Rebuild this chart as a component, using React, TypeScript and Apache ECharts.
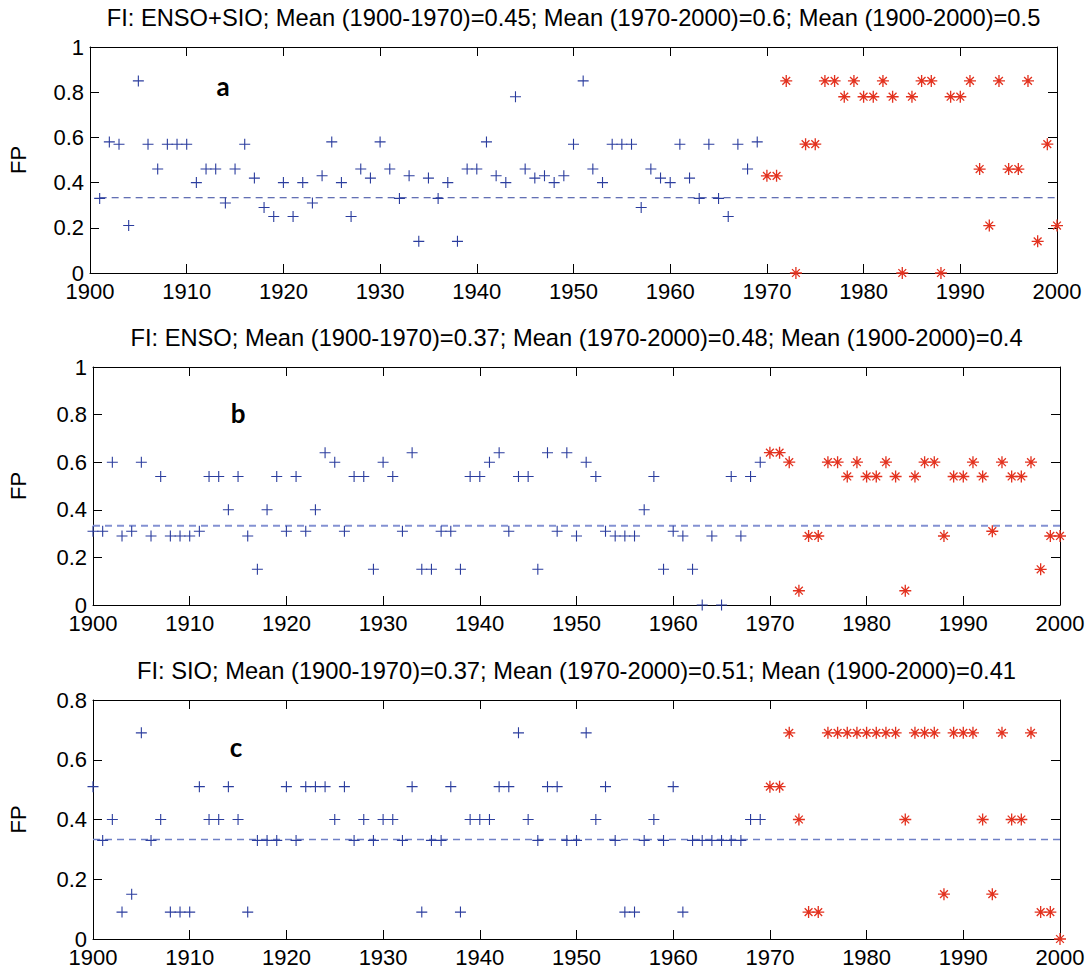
import React, { useEffect, useRef } from "react";
import * as echarts from "echarts";

// ---------- data ----------
const startYearA = 1901;
const startYearB = 1900;
const startYearC = 1900;
const endYear = 2000;
const splitYear = 1970;
const chanceLevel = 0.333;

const fpA = [
  0.33, 0.58, 0.57, 0.21, 0.85, 0.57, 0.46, 0.57, 0.57, 0.57,
  0.40, 0.46, 0.46, 0.31, 0.46, 0.57, 0.42, 0.29, 0.25, 0.40,
  0.25, 0.40, 0.31, 0.43, 0.58, 0.40, 0.25, 0.46, 0.42, 0.58,
  0.46, 0.33, 0.43, 0.14, 0.42, 0.33, 0.40, 0.14, 0.46, 0.46,
  0.58, 0.43, 0.40, 0.78, 0.46, 0.42, 0.43, 0.40, 0.43, 0.57,
  0.85, 0.46, 0.40, 0.57, 0.57, 0.57, 0.29, 0.46, 0.42, 0.40,
  0.57, 0.42, 0.33, 0.57, 0.33, 0.25, 0.57, 0.46, 0.58,
  0.43, 0.43, 0.85, 0.0, 0.57, 0.57, 0.85, 0.85, 0.78, 0.85, 0.78,
  0.78, 0.85, 0.78, 0.0, 0.78, 0.85, 0.85, 0.0, 0.78, 0.78,
  0.85, 0.46, 0.21, 0.85, 0.46, 0.46, 0.85, 0.14, 0.57, 0.21,
];

const fpB = [
  0.31, 0.31, 0.60, 0.29, 0.31, 0.60, 0.29, 0.54, 0.29, 0.29,
  0.29, 0.31, 0.54, 0.54, 0.40, 0.54, 0.29, 0.15, 0.40, 0.54,
  0.31, 0.54, 0.31, 0.40, 0.64, 0.60, 0.31, 0.54, 0.54, 0.15,
  0.60, 0.54, 0.31, 0.64, 0.15, 0.15, 0.31, 0.31, 0.15, 0.54,
  0.54, 0.60, 0.64, 0.31, 0.54, 0.54, 0.15, 0.64, 0.31, 0.64,
  0.29, 0.60, 0.54, 0.31, 0.29, 0.29, 0.29, 0.40, 0.54, 0.15,
  0.31, 0.29, 0.15, 0.0, 0.29, 0.0, 0.54, 0.29, 0.54, 0.60,
  0.64, 0.64, 0.60, 0.06, 0.29, 0.29, 0.60, 0.60, 0.54, 0.60,
  0.54, 0.54, 0.60, 0.54, 0.06, 0.54, 0.60, 0.60, 0.29, 0.54,
  0.54, 0.60, 0.54, 0.31, 0.60, 0.54, 0.54, 0.60, 0.15, 0.29, 0.29,
];

const fpC = [
  0.51, 0.33, 0.40, 0.09, 0.15, 0.69, 0.33, 0.40, 0.09, 0.09,
  0.09, 0.51, 0.40, 0.40, 0.51, 0.40, 0.09, 0.33, 0.33, 0.33,
  0.51, 0.33, 0.51, 0.51, 0.51, 0.40, 0.51, 0.33, 0.40, 0.33,
  0.40, 0.40, 0.33, 0.51, 0.09, 0.33, 0.33, 0.51, 0.09, 0.40,
  0.40, 0.40, 0.51, 0.51, 0.69, 0.40, 0.33, 0.51, 0.51, 0.33,
  0.33, 0.69, 0.40, 0.51, 0.33, 0.09, 0.09, 0.33, 0.40, 0.33,
  0.51, 0.09, 0.33, 0.33, 0.33, 0.33, 0.33, 0.33, 0.40, 0.40,
  0.51, 0.51, 0.69, 0.40, 0.09, 0.09, 0.69, 0.69, 0.69, 0.69,
  0.69, 0.69, 0.69, 0.69, 0.40, 0.69, 0.69, 0.69, 0.15, 0.69,
  0.69, 0.69, 0.40, 0.15, 0.69, 0.40, 0.40, 0.69, 0.09, 0.09, 0.0,
];

const titles = [
  "FI: ENSO+SIO; Mean (1900-1970)=0.45; Mean (1970-2000)=0.6; Mean (1900-2000)=0.5",
  "FI: ENSO; Mean (1900-1970)=0.37; Mean (1970-2000)=0.48; Mean (1900-2000)=0.4",
  "FI: SIO; Mean (1900-1970)=0.37; Mean (1970-2000)=0.51; Mean (1900-2000)=0.41",
];
const panelLetters = ["a", "b", "c"];
const yMaxes = [1, 1, 0.8];
const yLabel = "FP";

// ---------- styling ----------
const FONT = "Liberation Sans, Arial, sans-serif";
const BLUE = "#2b3d9e";
const RED = "#e3321f";
const dashColors = ["#34449e", "#8391d2", "#6f80c6"];
const dashWidths = [1, 2, 1.6];
const TICK_FONT = 22;

const grids = [
  { left: 90, top: 47, width: 967, height: 226 },
  { left: 93, top: 367, width: 967, height: 238 },
  { left: 93, top: 700, width: 967, height: 239 },
];

function rectPath(L: number, t: number, ang: number) {
  const c = Math.cos(ang), s = Math.sin(ang);
  const pts = [[-L, -t], [L, -t], [L, t], [-L, t]].map(([x, y]) => [x * c - y * s, x * s + y * c]);
  return "M" + pts.map((p) => p[0].toFixed(4) + "," + p[1].toFixed(4)).join("L") + "Z";
}
const TH = 0.1;
const plusSymbol = "path://" + rectPath(1, TH, 0) + rectPath(1, TH, Math.PI / 2);
const starSymbol =
  "path://" + rectPath(1, 0.11, 0) + rectPath(1, 0.11, Math.PI / 2) + rectPath(0.92, 0.11, Math.PI / 4) + rectPath(0.92, 0.11, -Math.PI / 4);

function buildOption() {
  const panels = [
    { start: startYearA, vals: fpA },
    { start: startYearB, vals: fpB },
    { start: startYearC, vals: fpC },
  ];
  const xAxis: any[] = [];
  const yAxis: any[] = [];
  const series: any[] = [];
  const graphic: any[] = [];

  panels.forEach((p, i) => {
    const g = grids[i];
    const common = {
      type: "value",
      gridIndex: i,
      min: 1900,
      max: 2000,
      interval: 10,
      splitLine: { show: false },
      axisLine: { show: true, onZero: false, lineStyle: { color: "#000", width: 1 } },
      axisTick: { show: true, inside: true, length: 9, lineStyle: { color: "#000", width: 1 } },
    };
    xAxis.push({
      ...common,
      position: "bottom",
      axisLabel: {
        show: true,
        color: "#000",
        fontSize: TICK_FONT,
        lineHeight: 16,
        fontFamily: FONT,
        margin: 10,
        formatter: (v: number) => String(v),
      },
    });
    xAxis.push({ ...common, position: "top", axisLabel: { show: false } });
    const ycommon = {
      type: "value",
      gridIndex: i,
      min: 0,
      max: yMaxes[i],
      interval: 0.2,
      splitLine: { show: false },
      axisLine: { show: true, onZero: false, lineStyle: { color: "#000", width: 1 } },
      axisTick: { show: true, inside: true, length: 9, lineStyle: { color: "#000", width: 1 } },
    };
    yAxis.push({
      ...ycommon,
      position: "left",
      axisLabel: {
        show: true,
        color: "#000",
        fontSize: TICK_FONT,
        lineHeight: 16,
        fontFamily: FONT,
        margin: 6,
        formatter: (v: number) => String(Math.round(v * 10) / 10),
      },
    });
    yAxis.push({ ...ycommon, position: "right", axisLabel: { show: false } });

    const blue: number[][] = [];
    const red: number[][] = [];
    p.vals.forEach((v, k) => {
      const yr = p.start + k;
      if (yr < splitYear) blue.push([yr, v]);
      else red.push([yr, v]);
    });

    series.push({
      type: "line",
      xAxisIndex: 2 * i,
      yAxisIndex: 2 * i,
      data: [[p.start, chanceLevel], [endYear, chanceLevel]],
      symbol: "none",
      silent: true,
      z: 1,
      lineStyle: { color: dashColors[i], width: dashWidths[i], type: [7, 5] },
    });
    series.push({
      type: "scatter",
      xAxisIndex: 2 * i,
      yAxisIndex: 2 * i,
      data: blue,
      symbol: plusSymbol,
      symbolSize: 11,
      silent: true,
      z: 3,
      itemStyle: { color: BLUE, opacity: 1 },
    });
    series.push({
      type: "scatter",
      xAxisIndex: 2 * i,
      yAxisIndex: 2 * i,
      data: red,
      symbol: starSymbol,
      symbolSize: 12,
      silent: true,
      z: 4,
      itemStyle: { color: RED, opacity: 1 },
    });

    graphic.push({
      type: "text",
      x: g.left + g.width / 2,
      y: g.top - 29,
      style: {
        text: titles[i],
        fill: "#000",
        fontSize: 23.7,
        fontFamily: FONT,
        textAlign: "center",
        textVerticalAlign: "middle",
      },
    });
    graphic.push({
      type: "text",
      x: 18,
      y: g.top + g.height / 2,
      rotation: Math.PI / 2,
      style: {
        text: yLabel,
        fill: "#000",
        fontSize: TICK_FONT,
        fontFamily: FONT,
        textAlign: "center",
        textVerticalAlign: "middle",
      },
    });
  });

  const letterPos = [
    [223, 86],
    [238, 413],
    [236, 747],
  ];
  panelLetters.forEach((l, i) => {
    graphic.push({
      type: "text",
      x: letterPos[i][0],
      y: letterPos[i][1],
      style: {
        text: l,
        fill: "#000",
        fontSize: 26,
        fontWeight: "bold",
        fontFamily: "Lato, Open Sans, sans-serif",
        textAlign: "center",
        textVerticalAlign: "middle",
      },
    });
  });

  return {
    animation: false,
    backgroundColor: "#fff",
    grid: grids,
    xAxis,
    yAxis,
    series,
    graphic,
  };
}

export default function App() {
  const ref = useRef<HTMLDivElement>(null);
  useEffect(() => {
    const chart = echarts.init(ref.current!, null, { renderer: "svg" });
    chart.setOption(buildOption() as any);
    return () => chart.dispose();
  }, []);
  return (
    <div
      ref={ref}
      style={{ position: "fixed", left: 0, top: 0, width: 1091, height: 974, background: "#fff" }}
    />
  );
}
